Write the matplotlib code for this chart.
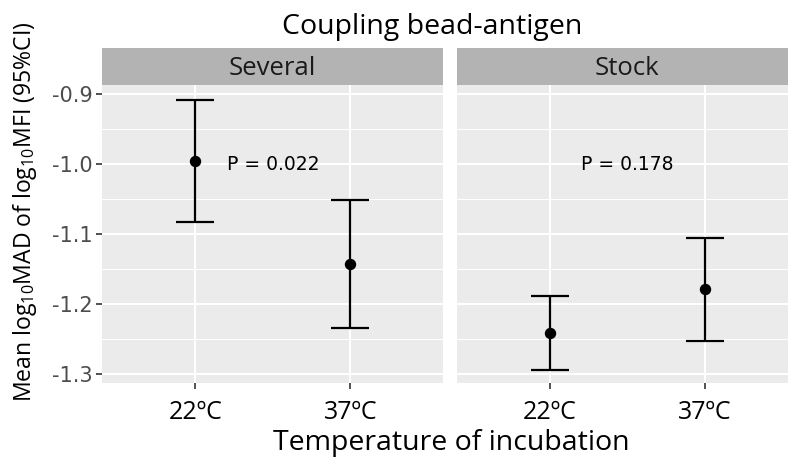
import matplotlib
matplotlib.use("Agg")
import matplotlib.pyplot as plt

panels = ["Several", "Stock"]
temps = ["22ºC", "37ºC"]
means = {"Several": [-0.996, -1.142], "Stock": [-1.241, -1.179]}
lower = {"Several": [-1.083, -1.234], "Stock": [-1.294, -1.253]}
upper = {"Several": [-0.908, -1.051], "Stock": [-1.188, -1.105]}
pvals = {"Several": "P = 0.022", "Stock": "P = 0.178"}
yticks = [-0.9, -1.0, -1.1, -1.2, -1.3]

plt.rcParams['mathtext.fontset'] = 'custom'
plt.rcParams['mathtext.rm'] = 'Open Sans'
plt.rcParams['mathtext.it'] = 'Open Sans'

W, H = 788, 461
fig = plt.figure(figsize=(W/100, H/100), dpi=100)

calfont = "Open Sans"
lefts = [102.3, 456.7]
pw = 341
ybot, ytop = 383.3, 85
stop = 48.3

for i, p in enumerate(panels):
    ax = fig.add_axes([lefts[i]/W, 1-ybot/H, pw/W, (ybot-ytop)/H])
    ax.set_facecolor("#EBEBEB")
    for s in ax.spines.values():
        s.set_visible(False)
    ax.set_xlim(0.4, 2.6)
    ax.set_ylim(-1.3133, -0.8867)
    xs = [1, 2]
    for yv in yticks:
        ax.axhline(yv, color="white", lw=1.5, zorder=0)
    for yv in [-0.95, -1.05, -1.15, -1.25]:
        ax.axhline(yv, color="white", lw=0.75, zorder=0)
    for xv in xs:
        ax.axvline(xv, color="white", lw=1.5, zorder=0)
    m = means[p]
    lo = [m[k]-lower[p][k] for k in range(2)]
    hi = [upper[p][k]-m[k] for k in range(2)]
    ax.errorbar(xs, m, yerr=[lo, hi], fmt='o', color='black', ms=7.2,
                elinewidth=1.6, capsize=13.9, capthick=1.6, zorder=3)
    ax.text(1.5, -1.0, pvals[p], ha='center', va='center', fontsize=13.5,
            family="DejaVu Sans", color="black")
    ax.set_xticks(xs)
    ax.set_xticklabels(temps, family=calfont, fontsize=18, color="black")
    ax.set_yticks(yticks)
    if i == 0:
        ax.set_yticklabels([f"{v:.1f}" for v in yticks], family="DejaVu Sans",
                           fontsize=15, color="#4D4D4D")
    else:
        ax.set_yticklabels([])
    ax.tick_params(axis='both', length=4, width=1.2, color="#333333")
    if i == 1:
        ax.tick_params(axis='y', length=0)
    ax.tick_params(axis='x', pad=8)
    ax.tick_params(axis='y', pad=3)
    sax = fig.add_axes([lefts[i]/W, 1-ytop/H, pw/W, (ytop-stop)/H])
    sax.set_facecolor("#B3B3B3")
    sax.set_xticks([]); sax.set_yticks([])
    for s in sax.spines.values():
        s.set_visible(False)
    sax.text(0.5, 0.45, p, ha='center', va='center', fontsize=18.5,
             family=calfont, color="#1A1A1A", transform=sax.transAxes)

fig.text(431.7/W, 1-27/H, "Coupling bead-antigen", ha='center', va='center',
         fontsize=20.5, family=calfont)
fig.text(451/W, 1-443/H, "Temperature of incubation", ha='center', va='center',
         fontsize=20.5, family=calfont)
fig.text(25/W, 1-212/H, "Mean log$_{10}$MAD of log$_{10}$MFI (95%CI)", ha='center',
         va='center', rotation=90, fontsize=16.6, family=calfont)

fig.savefig("out.png", dpi=100)
